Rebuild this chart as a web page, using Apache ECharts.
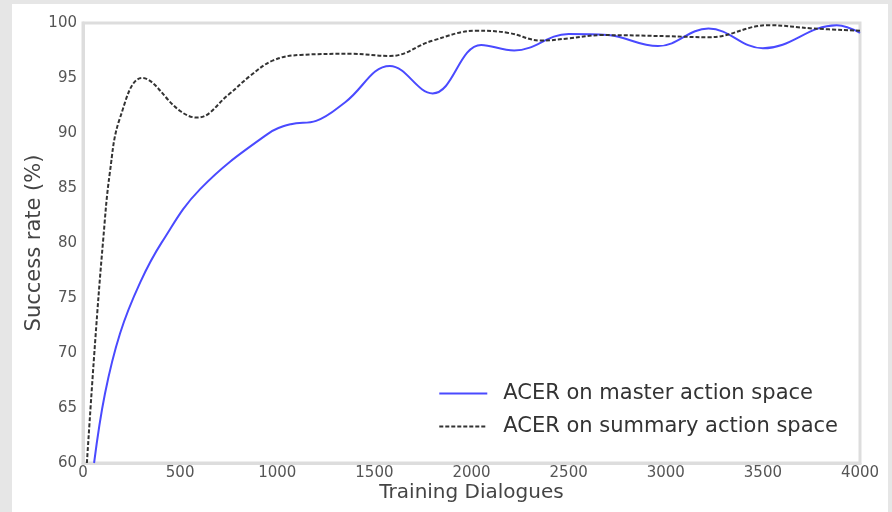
<!DOCTYPE html>
<html>
<head>
<meta charset="utf-8">
<script src="https://cdn.jsdelivr.net/npm/echarts@6/dist/echarts.min.js"></script>
<style>
  html, body { margin: 0; padding: 0; background: #e6e6e6; }
  #chart1 { position: absolute; left: 12px; top: 4px; width: 876px; height: 508px; background: #fff; }
</style>
</head>
<body>
<div id="chart1"></div>
<script>
// master action space (blue)
const masterX = [57, 113, 191, 294, 407, 603, 950, 1070, 1200, 1350, 1580, 1800, 2050, 2220, 2500, 2700, 2960, 3220, 3500, 3880, 4000];
const masterY = [60, 66.3, 71.8, 76.4, 80.1, 84.9, 89.9, 90.8, 91.1, 92.8, 96.1, 93.6, 98.0, 97.5, 99.0, 98.9, 97.9, 99.5, 97.7, 99.8, 99.1];

// summary action space (black dashed)
const summaryX = [20, 62, 103, 139, 191, 304, 500, 588, 750, 861, 979, 1120, 1380, 1580, 1800, 2030, 2190, 2360, 2500, 2670, 3010, 3220, 3530, 3760, 4000];
const summaryY = [60, 70.9, 80.1, 86.5, 91.4, 95.0, 92.0, 91.4, 93.5, 95.2, 96.6, 97.1, 97.2, 97.0, 98.4, 99.3, 99.1, 98.4, 98.6, 98.9, 98.8, 98.7, 99.8, 99.5, 99.3];

const seriesNames = ['ACER on master action space', 'ACER on summary action space'];

const pairs = (xs, ys) => xs.map((x, i) => [x, ys[i]]);

const getOptionChart1 = () => {
  const font = 'DejaVu Sans, Verdana, sans-serif';
  return {
    animation: false,
    textStyle: { fontFamily: font },
    grid: { left: 71, right: 28, top: 19, bottom: 49, outerBoundsMode: 'none' },
    legend: {
      orient: 'vertical',
      right: 45,
      bottom: 70,
      itemWidth: 48,
      itemHeight: 10,
      itemGap: 12,
      itemStyle: { opacity: 0 },
      textStyle: { fontSize: 21, color: '#333', fontFamily: font, padding: [0, 0, 0, 11] },
      data: seriesNames
    },
    xAxis: {
      type: 'value',
      min: 0,
      max: 4000,
      interval: 500,
      name: 'Training Dialogues',
      nameLocation: 'middle',
      nameGap: 20,
      nameMoveOverlap: false,
      nameTextStyle: { fontSize: 20, color: '#444' },
      axisLine: { lineStyle: { color: '#ddd', width: 3 } },
      axisTick: { show: false },
      axisLabel: { fontSize: 15, color: '#555', margin: 3, formatter: v => String(v) },
      splitLine: { show: false }
    },
    yAxis: {
      type: 'value',
      min: 60,
      max: 100,
      interval: 5,
      name: 'Success rate (%)',
      nameLocation: 'middle',
      nameGap: 38,
      nameMoveOverlap: false,
      nameTextStyle: { fontSize: 21, color: '#444' },
      axisLine: { show: true, lineStyle: { color: '#ddd', width: 3 } },
      axisTick: { show: false },
      axisLabel: { fontSize: 15, color: '#555', margin: 6 },
      splitLine: { show: false }
    },
    graphic: [{
      type: 'rect',
      shape: { x: 71, y: 19, width: 777, height: 440 },
      style: { fill: 'none', stroke: '#ddd', lineWidth: 3 },
      silent: true,
      z: -1
    }],
    series: [{
      name: seriesNames[0],
      type: 'line',
      data: pairs(masterX, masterY),
      smooth: 0.4,
      symbol: 'none',
      lineStyle: { color: '#4a4aff', width: 2 },
      itemStyle: { color: '#4a4aff' }
    }, {
      name: seriesNames[1],
      type: 'line',
      data: pairs(summaryX, summaryY),
      smooth: 0.4,
      symbol: 'none',
      lineStyle: { color: '#333', width: 2, type: [4, 2] },
      itemStyle: { color: '#333' }
    }]
  };
};

const initChart = () => {
  const chart1 = echarts.init(document.getElementById('chart1'));
  chart1.setOption(getOptionChart1());
};

window.addEventListener('load', initChart);
</script>
</body>
</html>
